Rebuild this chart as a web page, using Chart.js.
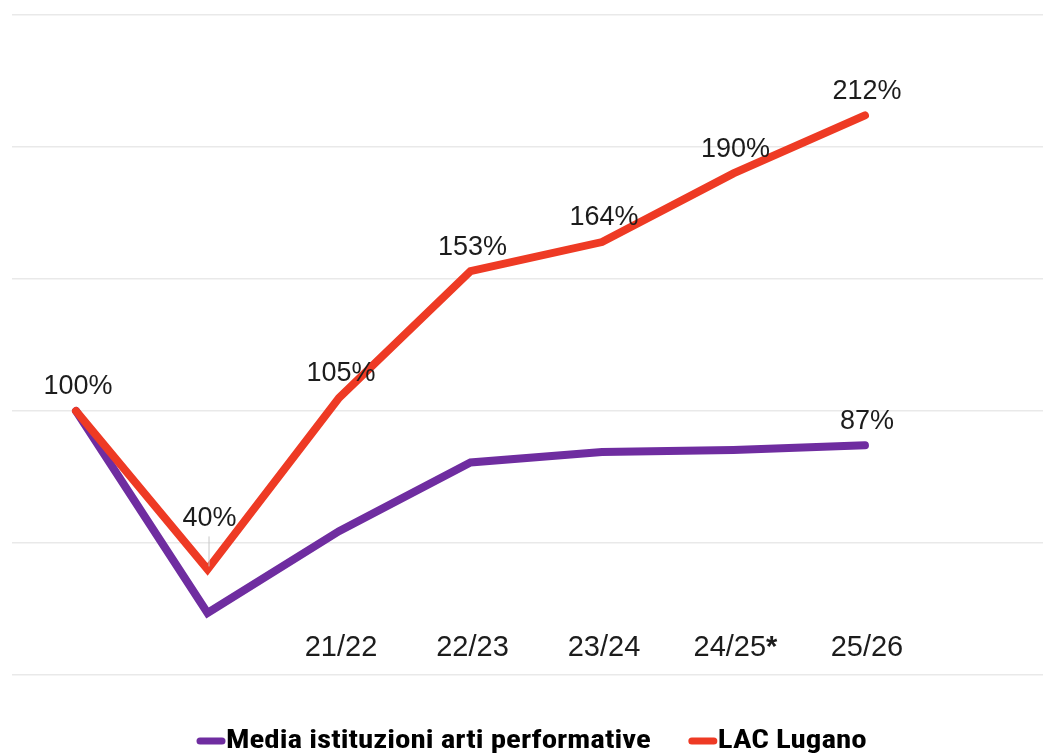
<!DOCTYPE html>
<html>
<head>
<meta charset="utf-8">
<script src="https://cdn.jsdelivr.net/npm/chart.js@4"></script>
<style>
  html, body { margin: 0; padding: 0; background: #fff; }
  #wrap { width: 1043px; height: 754px; position: relative; }
</style>
</head>
<body>
<div id="wrap"><canvas id="chart"></canvas></div>
<script>
const categories = ['', '', '21/22', '22/23', '23/24', '24/25*', '25/26'];
const mediaValues = [100, 23.5, 54.5, 80.5, 84.5, 85.2, 87];
const lacValues = [100, 40, 105, 153, 164, 190, 212];
const lacLabels = ['100%', '40%', '105%', '153%', '164%', '190%', '212%'];
const mediaLabels = ['', '', '', '', '', '', '87%'];
const yTicks = [0, 50, 100, 150, 200, 250];

const PURPLE = '#6f2da0';
const RED = '#ee3a24';
const TEXT = '#1c1c1c';
const SANS = '"Liberation Sans", Arial, sans-serif';
const NARROW = '"Liberation Sans Narrow", "Roboto Condensed", Roboto, sans-serif';

// value labels above the points (+ leader line for the 40% dip)
const valueLabels = {
    id: 'valueLabels',
    afterDatasetsDraw(chart) {
        const ctx = chart.ctx;
        ctx.save();
        ctx.font = '27px ' + SANS;
        ctx.fillStyle = TEXT;
        ctx.textAlign = 'center';
        ctx.textBaseline = 'middle';
        [[0, mediaLabels], [1, lacLabels]].forEach(([idx, labels]) => {
            const meta = chart.getDatasetMeta(idx);
            meta.data.forEach((pt, i) => {
                if (!labels[i]) return;
                let dy = 24;
                if (idx === 1 && i === 1) {
                    dy = 51;
                    ctx.strokeStyle = '#c8c8c8';
                    ctx.lineWidth = 1;
                    ctx.beginPath();
                    ctx.moveTo(pt.x + 1.5, pt.y - 33);
                    ctx.lineTo(pt.x + 1.5, pt.y - 3);
                    ctx.stroke();
                }
                ctx.fillText(labels[i], pt.x + 2, pt.y - dy);
            });
        });
        ctx.restore();
    }
};

// category labels drawn inside the plot, just above the 0 gridline
const categoryLabels = {
    id: 'categoryLabels',
    afterDraw(chart) {
        const ctx = chart.ctx;
        const xs = chart.scales.x;
        ctx.save();
        ctx.fillStyle = TEXT;
        ctx.textBaseline = 'middle';
        ctx.textAlign = 'left';
        categories.forEach((c, i) => {
            if (!c) return;
            const star = c.endsWith('*');
            const main = star ? c.slice(0, -1) : c;
            ctx.font = '29px ' + SANS;
            const w1 = ctx.measureText(main).width;
            ctx.font = 'bold 29px ' + SANS;
            const w2 = star ? ctx.measureText('*').width : 0;
            const x0 = xs.getPixelForValue(i) - (w1 + w2) / 2 + 2;
            const y = chart.chartArea.bottom - 27;
            ctx.font = '29px ' + SANS;
            ctx.fillText(main, x0, y);
            if (star) {
                ctx.font = 'bold 29px ' + SANS;
                ctx.fillText('*', x0 + w1, y);
            }
        });
        ctx.restore();
    }
};

// legend at the bottom: thick line swatch glued to bold condensed text
const bottomLegend = {
    id: 'bottomLegend',
    afterDraw(chart) {
        const ctx = chart.ctx;
        const items = [
            { text: 'Media istituzioni arti performative', color: PURPLE },
            { text: 'LAC Lugano', color: RED }
        ];
        const y = 741;
        const sx = 1.24;
        let x = 200;
        ctx.save();
        ctx.font = 'bold 25px ' + NARROW;
        ctx.textBaseline = 'middle';
        ctx.textAlign = 'left';
        items.forEach(it => {
            ctx.strokeStyle = it.color;
            ctx.lineWidth = 7;
            ctx.lineCap = 'round';
            ctx.beginPath();
            ctx.moveTo(x, y);
            ctx.lineTo(x + 22, y);
            ctx.stroke();
            ctx.fillStyle = '#000';
            ctx.save();
            ctx.translate(x + 26, y + 1);
            ctx.scale(sx, 1);
            ctx.fillText(it.text, 0, 0);
            ctx.restore();
            x += 26 + ctx.measureText(it.text).width * sx + 41;
        });
        ctx.restore();
    }
};

new Chart(document.getElementById('chart'), {
    type: 'line',
    data: {
        datasets: [
            {
                label: 'Media istituzioni arti performative',
                data: mediaValues.map((v, i) => ({ x: i, y: v })),
                borderColor: PURPLE,
                backgroundColor: PURPLE,
                borderWidth: 8,
                borderCapStyle: 'round',
                borderJoinStyle: 'miter',
                pointRadius: 0,
                tension: 0,
                order: 2
            },
            {
                label: 'LAC Lugano',
                data: lacValues.map((v, i) => ({ x: i, y: v })),
                borderColor: RED,
                backgroundColor: RED,
                borderWidth: 8,
                borderCapStyle: 'round',
                borderJoinStyle: 'miter',
                pointRadius: 0,
                tension: 0,
                order: 1
            }
        ]
    },
    options: {
        responsive: true,
        maintainAspectRatio: false,
        animation: false,
        layout: { padding: { left: 12, right: 0, top: 15, bottom: 79 } },
        plugins: {
            legend: { display: false },
            tooltip: { enabled: false }
        },
        scales: {
            x: {
                type: 'linear',
                display: false,
                min: -0.487,
                max: 7.354
            },
            y: {
                min: yTicks[0],
                max: yTicks[yTicks.length - 1],
                afterBuildTicks: axis => { axis.ticks = yTicks.map(v => ({ value: v })); },
                ticks: { display: false },
                border: { display: false },
                grid: { color: '#e9e9e9', lineWidth: 1.5, drawTicks: false }
            }
        }
    },
    plugins: [valueLabels, categoryLabels, bottomLegend]
});
</script>
</body>
</html>
